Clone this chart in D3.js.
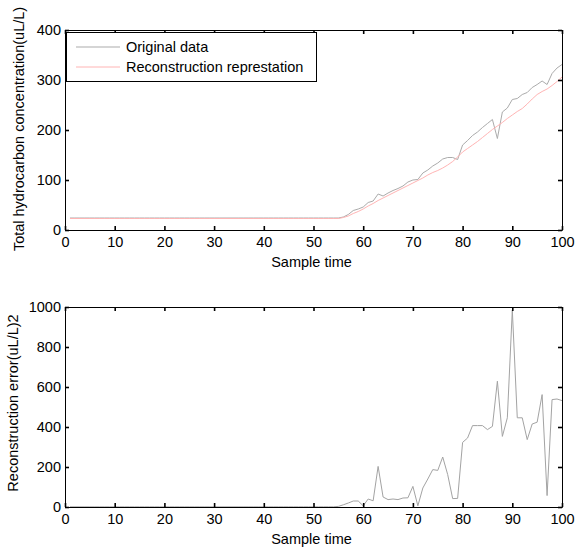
<!DOCTYPE html>
<html>
<head>
<meta charset="utf-8">
<script src="https://cdn.jsdelivr.net/npm/d3@7"></script>
<style>
  html, body { margin: 0; padding: 0; background: #fff; }
  svg { display: block; }
  text { font-family: "Liberation Sans", Arial, Helvetica, sans-serif; fill: #000; }
</style>
</head>
<body>
<svg id="chart" width="575" height="551"></svg>
<script>
// ---------------- DATA ----------------
const sampleTime = d3.range(1, 101);
const xTicks = [0, 10, 20, 30, 40, 50, 60, 70, 80, 90, 100];
const topYTicks = [0, 100, 200, 300, 400];
const bottomYTicks = [0, 200, 400, 600, 800, 1000];
const seriesNames = ["Original data", "Reconstruction represtation"];

const originalData = [
  24, 24, 24, 24, 24, 24, 24, 24, 24, 24,
  24, 24, 24, 24, 24, 24, 24, 24, 24, 24,
  24, 24, 24, 24, 24, 24, 24, 24, 24, 24,
  24, 24, 24, 24, 24, 24, 24, 24, 24, 24,
  24, 24, 24, 24, 24, 24, 24, 24, 24, 24,
  24, 24, 24, 24, 24, 26, 31, 39, 42, 46,
  55, 58, 72, 68, 74, 79, 83, 88, 96, 100,
  101, 114, 120, 128, 134, 142, 145, 145, 141, 170,
  179, 189, 196, 205, 213, 221, 183, 236, 244, 261,
  263, 271, 275, 285, 291, 298, 291, 313, 324, 331
];

const reconstruction = [
  23, 23, 23, 23, 23, 23, 23, 23, 23, 23,
  23, 23, 23, 23, 23, 23, 23, 23, 23, 23,
  23, 23, 23, 23, 23, 23, 23, 23, 23, 23,
  23, 23, 23, 23, 23, 23, 23, 23, 23, 23,
  23, 23, 23, 23, 23, 23, 23, 23, 23, 23,
  23, 23, 23, 23, 23, 25, 28, 33, 37, 42,
  48, 53, 59, 64, 69, 74, 79, 84, 89, 94,
  99, 104, 110, 115, 119, 124, 130, 137, 146, 156,
  163, 170, 177, 185, 193, 201, 208, 215, 223, 230,
  237, 243, 252, 262, 271, 277, 282, 289, 297, 306
];

const reconstructionError = [
  1, 1, 1, 1, 1, 1, 1, 1, 1, 1,
  1, 1, 1, 1, 1, 1, 1, 1, 1, 1,
  1, 1, 1, 1, 1, 1, 1, 1, 1, 1,
  1, 1, 1, 1, 1, 1, 1, 1, 1, 1,
  1, 1, 1, 1, 1, 1, 1, 1, 1, 1,
  1, 1, 1, 1, 3, 11, 20, 30, 30, 6,
  40, 31, 203, 50, 37, 40, 37, 45, 46, 103,
  6, 95, 140, 187, 183, 250, 162, 42, 43, 323,
  345, 407, 407, 407, 387, 403, 629, 353, 446, 985,
  446, 446, 337, 415, 424, 562, 57, 537, 540, 532
];

// ---------------- LAYOUT ----------------
const svg = d3.select("#chart");
const FS = "14.5px";
const left = 65, right = 562;
const x = d3.scaleLinear().domain([0, 100]).range([left, right]);

function drawPanel(cfg) {
  const y = d3.scaleLinear().domain(cfg.yDomain).range([cfg.bottom, cfg.top]);
  const g = svg.append("g");

  // Lines
  cfg.series.forEach(s => {
    const line = d3.line().x((d, i) => x(sampleTime[i])).y(d => y(d));
    g.append("path")
      .datum(s.values)
      .attr("fill", "none")
      .attr("stroke", s.color)
      .attr("stroke-width", 1)
      .attr("d", line);
  });

  const tick = 4;
  const axB = d3.axisBottom(x).tickValues(xTicks).tickSizeInner(-tick).tickSizeOuter(0).tickPadding(7).tickFormat(d3.format("d"));
  const axT = d3.axisTop(x).tickValues(xTicks).tickSizeInner(-tick).tickSizeOuter(0).tickFormat("");
  const axL = d3.axisLeft(y).tickValues(cfg.yTicks).tickSizeInner(-tick).tickSizeOuter(0).tickPadding(4).tickFormat(d3.format("d"));
  const axR = d3.axisRight(y).tickValues(cfg.yTicks).tickSizeInner(-tick).tickSizeOuter(0).tickFormat("");

  const gb = g.append("g").attr("transform", `translate(0,${cfg.bottom})`).call(axB);
  const gt = g.append("g").attr("transform", `translate(0,${cfg.top})`).call(axT);
  const gl = g.append("g").attr("transform", `translate(${left},0)`).call(axL);
  const gr = g.append("g").attr("transform", `translate(${right},0)`).call(axR);
  [gb, gt, gl, gr].forEach(a => {
    a.selectAll(".domain").attr("stroke", "#000").attr("stroke-width", 1);
    a.selectAll(".tick line").attr("stroke", "#000").attr("stroke-width", 1.6);
    a.selectAll("text").attr("font-size", FS).attr("font-family", "Liberation Sans, Arial, sans-serif").attr("fill", "#000");
  });

  // Axis titles
  g.append("text")
    .attr("x", (left + right) / 2 - 2)
    .attr("y", cfg.bottom + 37)
    .attr("text-anchor", "middle")
    .attr("font-size", FS)
    .text("Sample time");

  g.append("text")
    .attr("transform", `translate(${cfg.yLabelX},${cfg.yLabelY}) rotate(-90)`)
    .attr("text-anchor", "middle")
    .attr("font-size", FS)
    .text(cfg.yLabel);

  return { g, y };
}

const topPanel = drawPanel({
  top: 30, bottom: 230, yDomain: [0, 400], yTicks: topYTicks,
  yLabel: "Total hydrocarbon concentration(uL/L)", yLabelX: 24, yLabelY: 129,
  series: [
    { values: originalData, color: "#ababab" },
    { values: reconstruction, color: "#ffb4b4" }
  ]
});

drawPanel({
  top: 307, bottom: 507, yDomain: [0, 1000], yTicks: bottomYTicks,
  yLabel: "Reconstruction error(uL/L)2", yLabelX: 18, yLabelY: 403,
  series: [
    { values: reconstructionError, color: "#a3a3a3" }
  ]
});

// Legend
const legend = svg.append("g");
const lx0 = 66, ly0 = 32, lx1 = 316, ly1 = 81;
legend.append("rect")
  .attr("x", lx0 + 0.5).attr("y", ly0 + 0.5)
  .attr("width", lx1 - lx0).attr("height", ly1 - ly0)
  .attr("fill", "#fff").attr("stroke", "#000").attr("stroke-width", 1);
const legendColors = ["#ababab", "#ffb4b4"];
seriesNames.forEach((name, i) => {
  const cy = 47 + i * 20;
  legend.append("line")
    .attr("x1", 76).attr("x2", 120).attr("y1", cy).attr("y2", cy)
    .attr("stroke", legendColors[i]).attr("stroke-width", 1);
  legend.append("text")
    .attr("x", 126).attr("y", cy)
    .attr("dy", "0.35em")
    .attr("font-size", FS)
    .text(name);
});
</script>
</body>
</html>
